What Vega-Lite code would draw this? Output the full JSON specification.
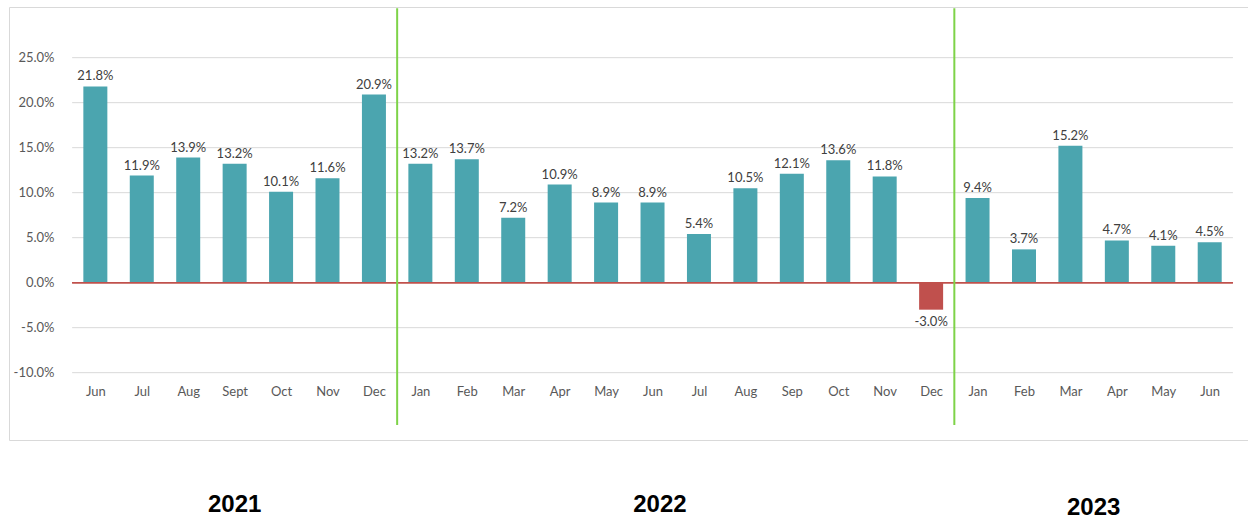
{
  "$schema": "https://vega.github.io/schema/vega-lite/v6.json",
  "width": 1239,
  "height": 433,
  "padding": {"left": 9, "top": 7, "right": 0, "bottom": 0},
  "background": "white",
  "config": {
    "view": {"stroke": "#d9d9d9", "strokeWidth": 1},
    "font": "Lato"
  },
  "datasets": {
    "bars": [
      {"i": 0, "year": "2021", "m": "Jun", "v": 0.218},
      {"i": 1, "year": "2021", "m": "Jul", "v": 0.119},
      {"i": 2, "year": "2021", "m": "Aug", "v": 0.139},
      {"i": 3, "year": "2021", "m": "Sept", "v": 0.132},
      {"i": 4, "year": "2021", "m": "Oct", "v": 0.101},
      {"i": 5, "year": "2021", "m": "Nov", "v": 0.116},
      {"i": 6, "year": "2021", "m": "Dec", "v": 0.209},
      {"i": 7, "year": "2022", "m": "Jan", "v": 0.132},
      {"i": 8, "year": "2022", "m": "Feb", "v": 0.137},
      {"i": 9, "year": "2022", "m": "Mar", "v": 0.072},
      {"i": 10, "year": "2022", "m": "Apr", "v": 0.109},
      {"i": 11, "year": "2022", "m": "May", "v": 0.089},
      {"i": 12, "year": "2022", "m": "Jun", "v": 0.089},
      {"i": 13, "year": "2022", "m": "Jul", "v": 0.054},
      {"i": 14, "year": "2022", "m": "Aug", "v": 0.105},
      {"i": 15, "year": "2022", "m": "Sep", "v": 0.121},
      {"i": 16, "year": "2022", "m": "Oct", "v": 0.136},
      {"i": 17, "year": "2022", "m": "Nov", "v": 0.118},
      {"i": 18, "year": "2022", "m": "Dec", "v": -0.030},
      {"i": 19, "year": "2023", "m": "Jan", "v": 0.094},
      {"i": 20, "year": "2023", "m": "Feb", "v": 0.037},
      {"i": 21, "year": "2023", "m": "Mar", "v": 0.152},
      {"i": 22, "year": "2023", "m": "Apr", "v": 0.047},
      {"i": 23, "year": "2023", "m": "May", "v": 0.041},
      {"i": 24, "year": "2023", "m": "Jun", "v": 0.045}
    ],
    "grid": [
      {"g": -0.10}, {"g": -0.05}, {"g": 0.05}, {"g": 0.10}, {"g": 0.15}, {"g": 0.20}, {"g": 0.25}
    ],
    "dividers": [
      {"after": "Dec 2021", "pos": 6.5},
      {"after": "Dec 2022", "pos": 18.5}
    ]
  },
  "layer": [
    {
      "data": {"name": "grid"},
      "mark": {"type": "rule", "color": "#d9d9d9", "strokeWidth": 1},
      "encoding": {
        "y": {
          "field": "g", "type": "quantitative",
          "scale": {"domain": [-0.1748, 0.3063], "nice": false, "zero": false},
          "axis": {
            "values": [-0.1, -0.05, 0, 0.05, 0.1, 0.15, 0.2, 0.25],
            "format": ".1%",
            "labelExpr": "replace(datum.label, '−', '-')",
            "title": null,
            "grid": false,
            "domain": false,
            "ticks": false,
            "offset": -57,
            "labelPadding": 12,
            "labelFont": "Lato",
            "labelFontSize": 13,
            "labelColor": "#595959"
          }
        },
        "x": {
          "datum": -0.5, "type": "quantitative",
          "scale": {"domain": [-1.752, 24.717], "nice": false, "zero": false},
          "axis": {
            "values": [0,1,2,3,4,5,6,7,8,9,10,11,12,13,14,15,16,17,18,19,20,21,22,23,24],
            "labelExpr": "['Jun','Jul','Aug','Sept','Oct','Nov','Dec','Jan','Feb','Mar','Apr','May','Jun','Jul','Aug','Sep','Oct','Nov','Dec','Jan','Feb','Mar','Apr','May','Jun'][datum.value]",
            "title": null,
            "grid": false,
            "domain": false,
            "ticks": false,
            "offset": -58,
            "labelPadding": 3,
            "labelFont": "Lato",
            "labelFontSize": 13,
            "labelColor": "#595959",
            "labelOverlap": false
          }
        },
        "x2": {"datum": 24.5}
      }
    },
    {
      "data": {"name": "bars"},
      "mark": {"type": "bar", "width": 24},
      "encoding": {
        "x": {"field": "i", "type": "quantitative"},
        "y": {"field": "v", "type": "quantitative"},
        "y2": {"datum": 0},
        "color": {
          "condition": {"test": "datum.v < 0", "value": "#C0504D"},
          "value": "#4BA5AF"
        }
      }
    },
    {
      "data": {"name": "grid"},
      "mark": {"type": "rule", "color": "#C0504D", "strokeWidth": 1},
      "encoding": {
        "y": {"datum": 0, "type": "quantitative"},
        "x": {"datum": -0.5, "type": "quantitative"},
        "x2": {"datum": 24.5}
      }
    },
    {
      "data": {"name": "bars"},
      "transform": [{"filter": "datum.v >= 0"}],
      "mark": {"type": "text", "baseline": "alphabetic", "dy": -6, "font": "Lato", "fontSize": 13, "color": "#404040"},
      "encoding": {
        "x": {"field": "i", "type": "quantitative"},
        "y": {"field": "v", "type": "quantitative"},
        "text": {"field": "v", "type": "quantitative", "format": ".1%"}
      }
    },
    {
      "data": {"name": "bars"},
      "transform": [
        {"filter": "datum.v < 0"},
        {"calculate": "replace(format(datum.v, '.1%'), '−', '-')", "as": "lbl"}
      ],
      "mark": {"type": "text", "baseline": "alphabetic", "dy": 16, "font": "Lato", "fontSize": 13, "color": "#404040"},
      "encoding": {
        "x": {"field": "i", "type": "quantitative"},
        "y": {"field": "v", "type": "quantitative"},
        "text": {"field": "lbl"}
      }
    },
    {
      "data": {"name": "dividers"},
      "mark": {"type": "rule", "color": "#7ED348", "strokeWidth": 2},
      "encoding": {
        "x": {"field": "pos", "type": "quantitative"},
        "y": {"datum": 0.305, "type": "quantitative"},
        "y2": {"datum": -0.158}
      }
    },
    {
      "data": {"values": [{"label": "2021"}]},
      "mark": {"type": "text", "font": "Liberation Sans", "fontWeight": "bold", "fontSize": 24, "color": "#000000", "baseline": "middle"},
      "encoding": {
        "x": {"datum": 3.0, "type": "quantitative"},
        "y": {"datum": -0.247, "type": "quantitative"},
        "text": {"field": "label"}
      }
    },
    {
      "data": {"values": [{"label": "2022"}]},
      "mark": {"type": "text", "font": "Liberation Sans", "fontWeight": "bold", "fontSize": 24, "color": "#000000", "baseline": "middle"},
      "encoding": {
        "x": {"datum": 12.16, "type": "quantitative"},
        "y": {"datum": -0.247, "type": "quantitative"},
        "text": {"field": "label"}
      }
    },
    {
      "data": {"values": [{"label": "2023"}]},
      "mark": {"type": "text", "font": "Liberation Sans", "fontWeight": "bold", "fontSize": 24, "color": "#000000", "baseline": "middle"},
      "encoding": {
        "x": {"datum": 21.5, "type": "quantitative"},
        "y": {"datum": -0.2503, "type": "quantitative"},
        "text": {"field": "label"}
      }
    }
  ]
}
